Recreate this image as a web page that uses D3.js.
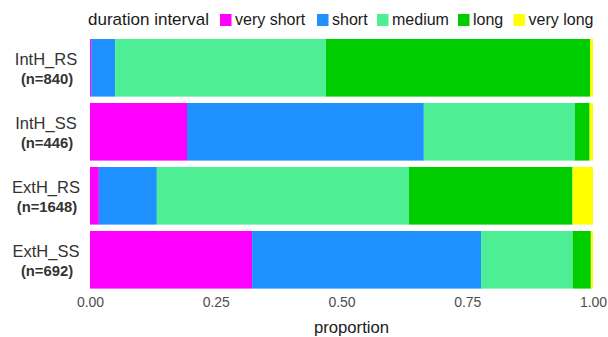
<!DOCTYPE html>
<html>
<head>
<meta charset="utf-8">
<script src="https://cdn.jsdelivr.net/npm/d3@7"></script>
<style>
  html, body { margin: 0; padding: 0; background: #fff; }
  svg { display: block; font-family: "Liberation Sans", Arial, sans-serif; }
</style>
</head>
<body>
<svg id="chart" width="608" height="337"></svg>
<script>
// ---- data (counts per duration interval) ----
const groups = ["IntH_RS", "IntH_SS", "ExtH_RS", "ExtH_SS"];
const groupN = [840, 446, 1648, 692];
const intervals = ["very short", "short", "medium", "long", "very long"];
const colors = ["#FF00FF", "#1E90FF", "#4EEE94", "#00CD00", "#FFFF00"];
const veryShort = [2, 86, 29, 223];
const short = [40, 210, 190, 315];
const medium = [352, 134, 826, 126];
const long = [441, 13, 536, 25];
const veryLong = [5, 3, 67, 3];
const xTicks = [0, 0.25, 0.5, 0.75, 1];
const legendTitle = "duration interval";
const xTitle = "proportion";

const seriesCounts = [veryShort, short, medium, long, veryLong];

// build proportion table
const rows = groups.map((g, i) => {
  const row = { group: g, n: groupN[i] };
  const total = seriesCounts.reduce((s, arr) => s + arr[i], 0);
  intervals.forEach((k, j) => { row[k] = seriesCounts[j][i] / total; });
  return row;
});

const svg = d3.select("#chart");

const x = d3.scaleLinear().domain([0, 1]).range([90, 593]);
const y = d3.scaleBand().domain(groups).range([35.8, 291.8])
  .paddingInner(0.1).paddingOuter(0.05);
const color = d3.scaleOrdinal().domain(intervals).range(colors);

const stack = d3.stack().keys(intervals);
const layers = stack(rows);

svg.append("g").selectAll("g")
  .data(layers)
  .join("g")
  .attr("fill", d => color(d.key))
  .selectAll("rect")
  .data(d => d)
  .join("rect")
  .attr("x", d => x(d[0]))
  .attr("width", d => Math.max(0, x(d[1]) - x(d[0])))
  .attr("y", d => y(d.data.group))
  .attr("height", y.bandwidth());

// x axis
const xAxis = d3.axisBottom(x).tickValues(xTicks).tickFormat(d3.format(".2f")).tickSize(0).tickPadding(0);
const gx = svg.append("g").attr("transform", "translate(0,297.5)").call(xAxis);
gx.select(".domain").remove();
gx.selectAll("text")
  .attr("font-size", "14px")
  .attr("font-family", "Liberation Sans, Arial, sans-serif")
  .attr("fill", "#4D4D4D")
  .attr("dy", "0.71em");

svg.append("text")
  .attr("x", x(0.5) + 10)
  .attr("y", 333)
  .attr("text-anchor", "middle")
  .attr("font-size", "16.7px")
  .attr("fill", "#1a1a1a")
  .text(xTitle);

// y labels (two lines, centered)
const yl = svg.append("g");
rows.forEach(r => {
  const cy = y(r.group) + y.bandwidth() / 2;
  yl.append("text")
    .attr("x", 46)
    .attr("y", cy - 3)
    .attr("text-anchor", "middle")
    .attr("font-size", "16.5px")
    .attr("fill", "#333")
    .text(r.group);
  yl.append("text")
    .attr("x", 47)
    .attr("y", cy + 16)
    .attr("text-anchor", "middle")
    .attr("font-size", "14.8px")
    .attr("font-weight", "bold")
    .attr("fill", "#333")
    .text(`(n=${r.n})`);
});

// legend (key positions matched to the reference layout)
const keyX = [220, 317, 377, 458, 513.5];
const lg = svg.append("g");
const ly = 25;
lg.append("text")
  .attr("x", 88).attr("y", ly)
  .attr("font-size", "17px").attr("fill", "#1a1a1a")
  .text(legendTitle);
intervals.forEach((k, i) => {
  lg.append("rect")
    .attr("x", keyX[i]).attr("y", 14).attr("width", 11.5).attr("height", 12)
    .attr("fill", color(k));
  lg.append("text")
    .attr("x", keyX[i] + 15).attr("y", ly)
    .attr("font-size", "16px").attr("fill", "#1a1a1a")
    .text(k);
});
</script>
</body>
</html>
